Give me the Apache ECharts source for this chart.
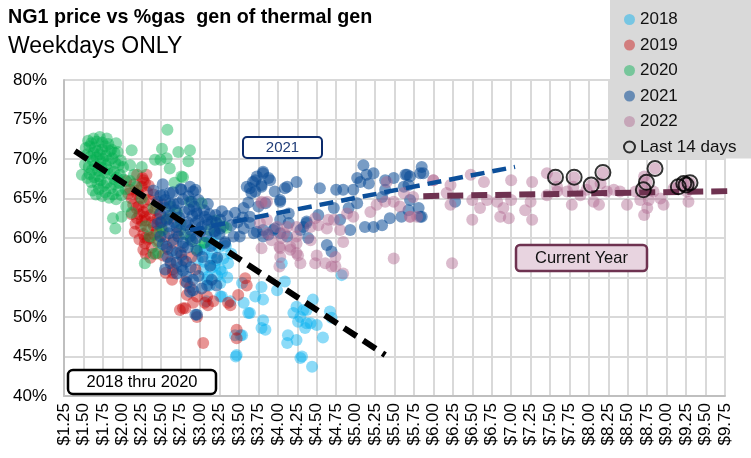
<!DOCTYPE html>
<html>
<head>
<meta charset="utf-8">
<script src="https://cdn.jsdelivr.net/npm/echarts@6/dist/echarts.min.js"></script>
<style>html,body{margin:0;padding:0;background:#fff}#c{width:751px;height:458px}</style>
</head>
<body>
<div id="c"></div>
<script>
// ---- data ----
const titleText = 'NG1 price vs %gas  gen of thermal gen';
const subTitleText = 'Weekdays ONLY';
const legendNames = ['2018', '2019', '2020', '2021', '2022', 'Last 14 days'];

const pts2018 = [[3.21,57.2],[3.26,56.0],[3.15,58.1],[3.09,54.7],[3.28,52.6],[3.54,54.3],[3.56,51.8],[3.71,52.6],[3.79,53.8],[3.81,52.2],[3.62,50.5],[4.09,54.5],[3.99,53.4],[3.81,49.6],[3.84,48.4],[3.45,47.7],[3.54,47.7],[3.47,45.2],[4.13,47.7],[4.12,46.7],[4.26,49.4],[4.33,50.9],[4.37,49.2],[4.31,45.0],[3.04,56.0],[2.97,57.2],[3.06,58.5],[3.00,58.5],[3.15,57.4],[3.28,55.7],[3.10,55.1],[3.26,54.3],[3.26,52.6],[3.39,52.0],[3.64,50.5],[3.52,47.7],[3.79,48.6],[4.24,51.3],[4.29,50.0],[4.37,50.9],[4.45,52.2],[4.42,49.2],[4.50,49.0],[4.67,50.7],[4.69,49.9],[4.58,47.4],[4.29,44.8],[4.44,43.7],[4.82,55.3],[4.20,50.5],[4.35,48.6],[3.12,59.6],[3.20,60.4],[3.33,59.0],[3.18,56.5],[3.36,56.8],[3.24,58.8],[3.40,58.0],[3.08,52.0],[3.46,45.0],[4.05,56.8],[3.14,56.2],[3.22,55.2],[3.30,57.4],[3.18,59.2],[3.05,57.0],[3.35,55.0],[3.12,54.0],[4.24,47.1]];

const pts2019 = [[2.19,68.0],[2.31,68.0],[2.29,67.0],[2.10,66.1],[2.23,65.1],[2.14,64.2],[2.27,63.3],[2.19,62.5],[2.36,62.9],[2.38,62.0],[2.15,66.8],[2.20,66.0],[2.25,66.5],[2.32,65.8],[2.28,64.5],[2.35,64.8],[2.40,65.5],[2.18,63.8],[2.22,63.0],[2.30,62.2],[2.24,61.5],[2.33,61.0],[2.40,61.6],[2.45,62.4],[2.42,63.5],[2.17,61.8],[2.27,60.5],[2.36,60.0],[2.44,60.8],[2.50,61.3],[2.29,59.3],[2.38,58.8],[2.47,59.6],[2.55,60.2],[2.34,66.6],[2.12,65.0],[2.26,67.6],[2.05,67.2],[2.08,65.6],[2.21,64.0],[2.32,63.6],[2.48,63.0],[2.52,64.2],[2.60,62.4],[2.58,58.6],[2.65,59.4],[2.70,60.6],[2.75,58.2],[2.62,57.0],[2.27,67.3],[2.29,62.7],[2.27,58.5],[2.65,56.0],[2.64,54.7],[2.94,56.0],[2.96,52.6],[3.09,52.6],[3.17,52.0],[3.06,51.8],[2.78,51.1],[2.74,50.9],[2.96,50.0],[3.04,46.7],[3.36,51.8],[3.49,52.8],[3.58,54.9],[3.47,48.4],[3.47,47.3],[2.78,57.2],[2.89,57.6],[2.81,54.5],[2.87,53.8],[2.81,51.1],[2.91,51.8],[3.39,51.5],[3.60,54.0],[2.29,60.0],[2.65,55.6],[2.83,52.8],[3.10,51.5],[2.12,63.0],[2.16,60.8],[2.22,59.8],[2.30,58.0],[2.36,57.5],[2.43,58.0],[2.52,57.8],[2.56,55.6],[2.19,65.6],[2.25,62.2],[2.33,59.8],[2.41,60.4],[2.44,64.2],[2.49,62.0]];

const pts2020 = [[1.53,71.4],[1.56,72.3],[1.60,72.0],[1.63,72.6],[1.67,72.2],[1.71,72.8],[1.74,72.1],[1.78,71.6],[1.82,71.9],[1.86,71.2],[1.90,70.8],[1.94,70.9],[1.55,70.6],[1.59,70.3],[1.63,70.8],[1.67,70.2],[1.71,70.6],[1.75,70.0],[1.79,70.4],[1.83,69.8],[1.87,70.1],[1.91,69.5],[1.95,69.2],[1.98,69.8],[2.01,69.0],[1.52,69.3],[1.57,69.0],[1.61,68.6],[1.65,69.2],[1.69,68.5],[1.73,68.9],[1.77,68.3],[1.81,68.7],[1.85,68.1],[1.89,68.4],[1.93,67.7],[1.97,68.0],[2.02,67.4],[1.48,68.0],[1.55,67.6],[1.60,67.1],[1.64,67.7],[1.68,66.9],[1.72,67.3],[1.76,66.6],[1.80,67.0],[1.85,66.3],[1.90,66.8],[1.95,66.0],[1.62,66.0],[1.66,65.5],[1.70,66.2],[1.74,65.3],[1.78,65.8],[1.83,65.1],[1.88,65.5],[1.92,64.9],[1.99,65.4],[1.74,71.2],[1.68,71.0],[1.80,72.6],[1.58,71.6],[1.65,71.5],[1.72,69.7],[1.62,69.8],[1.84,71.0],[1.90,67.4],[1.96,67.0],[2.04,66.2],[1.58,68.1],[1.70,67.8],[1.79,69.2],[1.92,72.0],[1.88,62.5],[1.99,62.7],[1.91,61.2],[2.05,64.0],[2.12,63.2],[2.18,66.5],[2.25,65.0],[2.30,61.5],[2.35,60.2],[2.40,63.8],[2.45,59.5],[2.52,61.0],[2.58,62.5],[2.62,64.0],[2.70,63.2],[2.75,61.8],[2.80,60.5],[2.88,59.8],[2.95,58.6],[3.05,59.4],[3.12,61.0],[3.20,62.2],[3.30,61.5],[2.40,58.0],[2.29,56.8],[2.48,60.8],[2.46,58.1],[2.78,67.7],[2.87,64.6],[3.02,64.4],[3.34,61.3],[3.06,59.4],[2.10,67.2],[2.15,68.0],[2.58,73.7],[2.51,71.3],[2.72,70.9],[2.87,71.1],[2.85,69.7],[2.61,68.8],[2.76,67.8],[2.57,70.1],[2.49,69.9],[2.12,71.1],[2.25,69.0],[2.10,69.2],[2.42,69.9],[2.67,67.0]];

const pts2021 = [[2.53,65.4],[2.61,64.4],[2.72,64.4],[2.49,63.1],[2.57,62.3],[2.70,61.4],[2.49,60.2],[2.57,58.9],[2.70,58.1],[2.78,58.9],[2.87,60.2],[2.94,61.9],[2.96,63.1],[2.94,66.1],[2.87,66.5],[2.98,64.8],[3.06,62.7],[3.15,62.1],[3.26,61.2],[3.21,61.9],[2.76,56.4],[2.83,55.1],[2.91,54.7],[2.87,53.2],[2.96,50.3],[2.55,56.0],[3.09,54.0],[3.15,54.7],[3.21,54.0],[2.94,50.3],[2.83,54.3],[2.91,53.4],[2.49,65.4],[2.61,65.7],[2.76,66.1],[2.91,65.9],[2.89,64.6],[2.55,63.8],[2.62,62.9],[2.68,63.5],[2.73,62.6],[2.80,63.3],[2.84,62.0],[2.90,62.8],[2.98,62.2],[3.02,61.4],[3.10,61.7],[3.18,60.9],[3.25,60.5],[2.60,60.6],[2.66,59.8],[2.72,60.2],[2.78,59.4],[2.84,58.8],[2.90,59.6],[2.96,58.4],[3.03,57.6],[2.58,57.6],[2.64,58.4],[2.70,56.9],[2.76,57.8],[2.82,57.0],[2.88,56.3],[2.50,62.0],[2.45,64.6],[2.40,66.0],[2.52,66.8],[2.65,65.8],[2.75,66.2],[2.85,65.3],[2.92,64.0],[3.05,63.5],[3.12,63.0],[3.20,62.9],[3.35,62.8],[3.40,61.6],[3.48,62.0],[3.43,60.2],[3.32,59.3],[3.19,60.8],[3.26,62.3],[3.09,62.3],[3.32,59.5],[2.45,61.8],[2.52,59.2],[2.60,61.5],[2.67,62.0],[2.74,61.0],[2.82,61.6],[2.88,61.0],[2.95,60.0],[3.00,60.8],[3.08,60.2],[3.14,59.0],[2.62,56.8],[2.70,55.5],[2.78,55.9],[2.98,55.2],[3.02,53.6],[3.13,56.5],[3.22,57.5],[2.55,64.8],[2.66,64.3],[2.78,64.9],[2.86,63.6],[2.95,63.4],[3.10,64.3],[3.28,63.4],[3.45,63.2],[3.55,62.6],[3.62,64.5],[3.60,66.5],[3.71,67.3],[3.81,68.2],[3.90,67.3],[3.79,66.7],[3.71,65.9],[4.12,66.5],[4.24,67.1],[4.03,64.8],[3.64,62.7],[3.56,61.2],[3.51,60.2],[3.73,60.8],[3.81,60.2],[3.94,61.0],[4.12,60.2],[4.29,61.0],[4.37,61.9],[3.81,68.4],[3.73,67.8],[3.68,67.1],[3.88,67.6],[3.64,66.3],[3.79,66.5],[3.66,65.7],[3.96,65.9],[4.09,66.3],[4.03,64.6],[3.56,63.8],[3.75,64.0],[3.84,64.4],[4.14,63.1],[4.03,62.3],[4.14,61.9],[3.96,61.2],[3.81,61.0],[3.64,61.9],[3.69,60.6],[3.88,60.4],[4.03,60.6],[4.33,61.4],[4.39,60.0],[4.52,62.9],[4.54,66.3],[4.75,66.1],[4.84,66.1],[4.97,66.1],[5.02,67.6],[5.10,69.2],[5.14,68.0],[5.23,68.2],[5.17,66.9],[5.06,67.1],[5.38,67.3],[5.49,67.6],[5.64,68.0],[5.70,67.8],[5.85,69.0],[5.87,68.2],[5.62,66.5],[5.34,65.2],[5.38,66.1],[5.02,64.4],[4.91,63.8],[4.72,63.8],[4.80,62.3],[4.93,61.0],[5.12,61.4],[5.23,61.4],[5.34,61.6],[5.44,62.5],[5.59,62.7],[5.68,63.5],[5.70,64.8],[5.83,62.7],[4.63,59.1],[4.69,58.3],[4.37,62.1],[5.66,68.0],[5.83,68.2],[5.68,66.7],[5.81,63.8],[5.85,62.7],[6.28,64.6]];

const pts2022 = [[3.79,64.6],[3.86,62.3],[3.79,58.7],[4.03,58.7],[4.03,57.6],[4.16,58.9],[4.26,57.8],[4.29,56.8],[4.50,57.8],[4.48,56.8],[4.61,56.8],[4.69,56.4],[4.74,56.4],[4.84,55.5],[3.92,59.7],[4.05,60.0],[4.24,59.3],[4.42,59.7],[4.42,61.4],[4.52,61.6],[4.65,62.3],[4.72,62.3],[4.48,62.5],[4.63,61.2],[4.80,61.0],[4.84,59.5],[4.74,57.6],[4.89,63.1],[4.97,62.7],[5.19,63.3],[5.27,64.2],[5.38,64.6],[5.49,64.6],[5.57,64.0],[5.70,62.7],[5.49,57.4],[5.62,65.7],[5.40,67.1],[6.00,67.3],[6.17,65.7],[5.74,65.2],[3.86,64.6],[4.12,61.4],[4.24,61.4],[3.79,64.4],[3.77,61.9],[3.86,60.6],[4.02,58.9],[4.02,56.4],[4.16,58.5],[4.24,58.1],[4.24,60.2],[3.99,61.4],[4.08,60.6],[6.22,64.2],[6.50,62.3],[6.60,63.8],[6.86,62.7],[6.97,62.5],[6.90,63.8],[6.82,64.6],[7.00,67.3],[7.25,64.6],[7.27,62.3],[7.18,63.5],[7.46,68.2],[7.59,66.5],[7.78,64.2],[7.80,66.5],[7.97,66.1],[8.06,64.6],[8.13,64.2],[8.23,65.9],[8.32,66.1],[8.40,65.9],[8.49,64.2],[8.66,64.8],[8.75,63.8],[8.71,62.9],[8.92,65.0],[8.96,64.2],[9.09,66.3],[9.28,64.6],[9.26,65.9],[8.83,65.9],[8.60,65.9],[7.59,65.9],[7.72,65.9],[7.89,65.4],[6.24,56.8],[7.27,67.1],[6.22,66.7],[6.00,67.3],[6.48,68.0],[6.65,67.1],[7.46,65.4],[8.15,66.9],[8.71,67.8],[8.77,64.8],[6.69,64.8],[7.00,64.8],[5.79,62.7],[5.70,62.7],[6.50,64.8],[7.57,67.7],[7.81,67.7],[8.03,66.7],[8.18,68.3],[8.74,67.05],[8.70,66.1],[8.85,68.8],[9.15,66.5],[9.22,66.9],[9.30,67.0]];

const ptsLast14 = [[7.57,67.7],[7.81,67.7],[8.03,66.7],[8.18,68.3],[8.74,67.05],[8.70,66.1],[8.85,68.8],[9.15,66.5],[9.22,66.9],[9.25,66.7],[9.30,67.0]];

const trend1820 = [[1.39,71.0],[5.38,45.2]];
const trend2021 = [[2.87,61.0],[7.05,69.0]];
const trend2022 = [[5.87,65.3],[9.88,65.95]];

// ---- chart ----
const FONT = "'Liberation Sans', Arial, sans-serif";
const chart = echarts.init(document.getElementById('c'));
const scatterColors = ['#00b0f0', '#c80000', '#00b050', '#0a4a96', '#b06890'];
const scatterOpacity = [0.45, 0.42, 0.45, 0.55, 0.45];
const yearData = [pts2018, pts2019, pts2020, pts2021, pts2022];

const series = yearData.map((d, i) => ({
  name: legendNames[i], type: 'scatter', data: d, symbolSize: 12,
  itemStyle: { color: scatterColors[i], opacity: scatterOpacity[i] },
  emphasis: { disabled: true }
}));
series.push({
  name: 'Last 14 days', type: 'scatter', data: ptsLast14, symbolSize: 15, z: 5,
  itemStyle: { color: 'rgba(0,0,0,0)', borderColor: '#000', borderWidth: 2 }
});
function trend(d, color, width, dash) {
  return { type: 'line', data: d, showSymbol: false, silent: true, clip: false, z: 4,
    lineStyle: { color: color, width: width, type: dash } };
}
series.push(trend(trend1820, '#000', 6, [15, 8]));
series.push(trend(trend2021, '#0c4f9a', 4.5, [14, 8]));
series.push(trend(trend2022, '#6e3250', 6, [16, 8]));

chart.setOption({
  animation: false,
  title: {
    text: titleText, subtext: subTitleText, left: 2, top: 0, padding: [8, 6], itemGap: 7,
    textStyle: { fontFamily: FONT, fontSize: 19.7, fontWeight: 'bold', color: '#000' },
    subtextStyle: { fontFamily: FONT, fontSize: 23, color: '#000' }
  },
  legend: {
    data: legendNames, orient: 'vertical', left: 610, top: 0,
    backgroundColor: '#d9d9d9', padding: [11, 30, 3, 13],
    itemWidth: 11, itemHeight: 11, itemGap: 8.5,
    textStyle: { fontFamily: FONT, fontSize: 17, color: '#111' }
  },
  grid: { left: 64, right: 26, top: 80, bottom: 62 },
  xAxis: {
    type: 'value', min: 1.25, max: 9.75, interval: 0.25,
    axisLine: { show: true, lineStyle: { color: '#bfbfbf', width: 2 } },
    axisTick: { show: false },
    splitLine: { show: true, lineStyle: { color: '#d9d9d9', width: 2 } },
    axisLabel: { rotate: 90, margin: 7, fontFamily: FONT, fontSize: 17, color: '#000',
      formatter: v => '$' + v.toFixed(2) }
  },
  yAxis: {
    type: 'value', min: 40, max: 80, interval: 5,
    axisLine: { show: true, lineStyle: { color: '#bfbfbf', width: 2 } },
    axisTick: { show: false },
    splitLine: { show: true, lineStyle: { color: '#d9d9d9', width: 2 } },
    axisLabel: { margin: 17, fontFamily: FONT, fontSize: 17, color: '#000', formatter: '{value}%' }
  },
  graphic: [
    { type: 'rect', z: 100, shape: { x: 243, y: 137, width: 79, height: 21, r: 4 },
      style: { fill: '#fff', stroke: '#0b2a6b', lineWidth: 2 } },
    { type: 'text', z: 101, x: 282.5, y: 148,
      style: { text: '2021', align: 'center', verticalAlign: 'middle', font: "15px 'Liberation Sans', Arial", fill: '#1f3c78' } },
    { type: 'rect', z: 100, shape: { x: 516, y: 245, width: 131, height: 26, r: 4 },
      style: { fill: '#e8d4e0', stroke: '#6e3250', lineWidth: 2.5 } },
    { type: 'text', z: 101, x: 581.5, y: 258.5,
      style: { text: 'Current Year', align: 'center', verticalAlign: 'middle', font: "16.5px 'Liberation Sans', Arial", fill: '#111' } },
    { type: 'rect', z: 100, shape: { x: 68, y: 370, width: 148, height: 24, r: 5 },
      style: { fill: '#fff', stroke: '#000', lineWidth: 2.5 } },
    { type: 'text', z: 101, x: 142, y: 382.5,
      style: { text: '2018 thru 2020', align: 'center', verticalAlign: 'middle', font: "16.5px 'Liberation Sans', Arial", fill: '#000' } }
  ],
  series: series
});
</script>
</body>
</html>
